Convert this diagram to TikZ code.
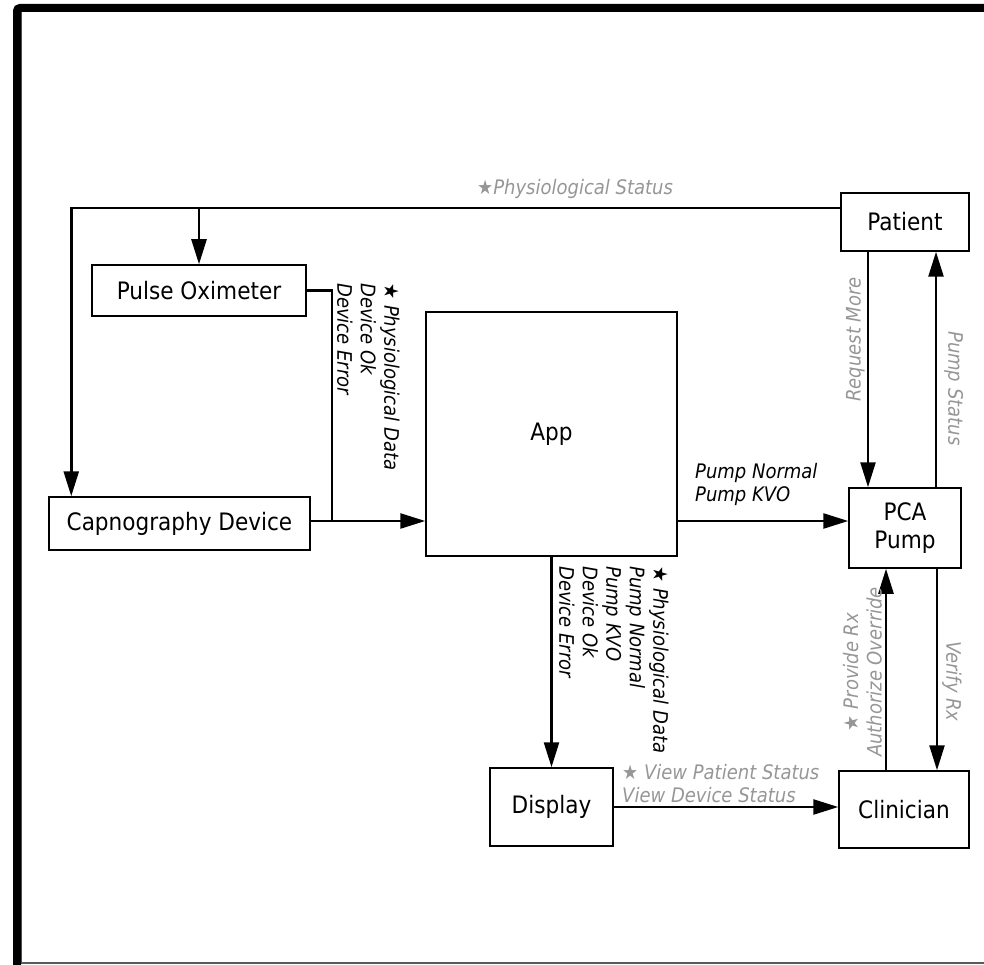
\documentclass[tikz,border=0pt]{standalone}
\usepackage{fontspec}
\setmainfont{DejaVu Sans Condensed}
\usetikzlibrary{arrows.meta}
\definecolor{lblgray}{RGB}{150,150,150}
\definecolor{edgegray}{RGB}{90,90,90}
\tikzset{
  block/.style={draw, line width=1.5pt, fill=white, inner sep=0pt, align=center,
                font=\fontsize{24}{28}\selectfont},
  conn/.style={line width=2.5pt},
  arr/.style={conn, -{Triangle[length=25pt,width=15pt]}},
  lbl/.style={inner sep=0pt, align=left, font=\fontsize{20}{23.5}\selectfont\itshape},
  glbl/.style={lbl, text=lblgray},
}
\begin{document}
\begin{tikzpicture}[x=1pt,y=-1pt]
\useasboundingbox (0,0) rectangle (984,965);
% page frame
\draw[edgegray, line width=1.5pt] (21.5,12) -- (21.5,963) -- (984,963);
\draw[line width=8pt, rounded corners=3pt] (17,965) -- (17,8) -- (984,8);

% blocks
\node[block, minimum width=128pt, minimum height=58pt] (patient) at (905,222) {Patient};
\node[block, minimum width=214pt, minimum height=51pt] (pulse) at (199,290.5) {Pulse Oximeter};
\node[block, minimum width=261pt, minimum height=53pt] (capno) at (179.5,523.5) {Capnography Device};
\node[block, minimum width=251pt, minimum height=244pt] (app) at (551.5,434) {App};
\node[block, minimum width=112pt, minimum height=80pt] (pca) at (905,528) {PCA\\Pump};
\node[block, minimum width=123pt, minimum height=78pt] (display) at (551.5,807) {Display};
\node[block, minimum width=130pt, minimum height=77pt] (clinician) at (904,809.5) {Clinician};

% patient status feed to the sensors
\coordinate (tap) at ([yshift=14pt]patient.west);
\draw[arr] (tap) -| ([xshift=23pt]capno.north west);
\draw[arr] (pulse.north |- tap) -- (pulse.north);
\node[glbl, anchor=south west] (lps) at (477,199) {★Physiological Status};

% sensors to app (shared entry level with the pump feed)
\coordinate (pin) at ([yshift=7pt]pca.west);
\coordinate (ain) at (app.west |- pin);
\draw[conn] (pulse.east) -| ([xshift=21pt]capno.east |- ain);
\draw[arr] (capno.east |- ain) -- (ain);
\node[lbl, rotate=-90, anchor=south west] (lsens) at (337,283)
  {★ Physiological Data\\Device Ok\\Device Error};

% app to pump
\draw[arr] (app.east |- pin) -- (pin);
\node[lbl, anchor=south west] (lpump) at (695,506) {Pump Normal\\Pump KVO};

% app to display
\draw[arr] (app.south) -- (display.north);
\node[lbl, rotate=-90, anchor=south west] (ldisp) at (559,566)
  {★ Physiological Data\\Pump Normal\\Pump KVO\\Device Ok\\Device Error};

% display to clinician
\draw[arr] (display.east) -- (display.east -| clinician.west);
\node[glbl, anchor=south west] (lview) at (622,803) {★ View Patient Status\\View Device Status};

% patient and pump
\draw[arr] ([xshift=-37pt]patient.south) -- ([xshift=-37pt]patient.south |- pca.north);
\node[glbl, rotate=90, anchor=south west] (lreq) at (865,402) {Request More};
\draw[arr] ([xshift=31pt]patient.south |- pca.north) -- ([xshift=31pt]patient.south);
\node[glbl, rotate=-90, anchor=south west] (lstat) at (944,331) {Pump Status};

% clinician and pump
\draw[arr] ([xshift=-18pt]clinician.north) -- ([xshift=-18pt]clinician.north |- pca.south);
\node[glbl, rotate=90, anchor=south, align=center] (lrx) at (882,672) {★ Provide Rx\\Authorize Override};
\draw[arr] ([xshift=33pt]clinician.north |- pca.south) -- ([xshift=33pt]clinician.north);
\node[glbl, rotate=-90, anchor=south west] (lver) at (942,641) {Verify Rx};
\end{tikzpicture}
\end{document}
